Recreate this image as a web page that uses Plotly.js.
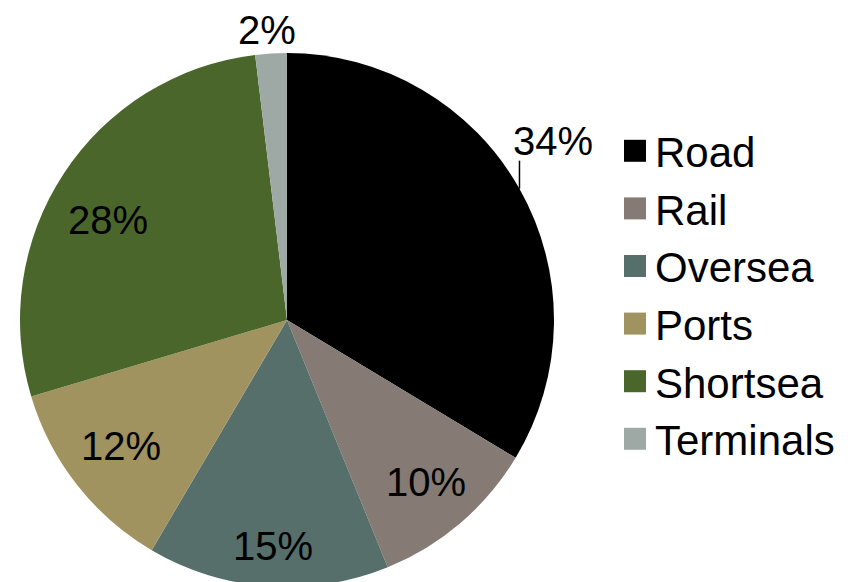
<!DOCTYPE html>
<html>
<head>
<meta charset="utf-8">
<script src="https://cdn.plot.ly/plotly-3.0.1.min.js"></script>
<style>
html,body{margin:0;padding:0;overflow:hidden;background:#fff;}
#chart{width:855px;height:592px;}
</style>
</head>
<body>
<div id="chart"></div>
<script>
// Data
var categories = ['Road', 'Rail', 'Oversea', 'Ports', 'Shortsea', 'Terminals'];
var shares = [33.6, 10.2, 14.6, 11.9, 27.7, 1.9];
var colors = ['#000000', '#857b74', '#566f6b', '#a0935f', '#4a662b', '#9ea9a6'];

// Label placement (styling, not data): radius factor and angle offset (deg)
var labelRadius = [1.20, 0.80, 0.85, 0.78, 0.77, 1.09];
var labelAngleOffset = [-4.5, 0, -0.5, 1, -4, -0.5];

var W = 855, H = 592;
var domX = [20 / W, 554 / W];
var domY = [1 - 587 / H, 1 - 53 / H];

var total = shares.reduce(function (a, b) { return a + b; }, 0);
var cxp = W * (domX[0] + domX[1]) / 2;
var cyp = H * (1 - (domY[0] + domY[1]) / 2);
var R = Math.min(W * (domX[1] - domX[0]), H * (domY[1] - domY[0])) / 2;

var annotations = [];
var shapes = [];
var cum = 0;
for (var i = 0; i < shares.length; i++) {
  var mid = (cum + shares[i] / 2) / total * 360;
  cum += shares[i];
  var a = (mid + labelAngleOffset[i]) * Math.PI / 180;
  var px = cxp + R * labelRadius[i] * Math.sin(a);
  var py = cyp - R * labelRadius[i] * Math.cos(a);
  annotations.push({
    x: px / W, y: 1 - py / H, xref: 'paper', yref: 'paper',
    text: Math.round(shares[i] / total * 100) + '%',
    showarrow: false, xanchor: 'center', yanchor: 'middle',
    font: {family: 'Liberation Sans, Arial, sans-serif', size: 40, color: '#000'}
  });
  if (labelRadius[i] > 1.15) {
    var am = mid * Math.PI / 180;
    var ex = cxp + R * Math.sin(am);
    var ey = cyp - R * Math.cos(am);
    shapes.push({
      type: 'line', xref: 'paper', yref: 'paper',
      x0: ex / W, y0: 1 - ey / H, x1: ex / W, y1: 1 - (ey - 28) / H,
      line: {color: '#000', width: 1.5}
    });
  }
}

var trace = {
  type: 'pie',
  labels: categories,
  values: shares,
  sort: false,
  direction: 'clockwise',
  rotation: 0,
  marker: {colors: colors, line: {width: 0}},
  textinfo: 'none',
  hoverinfo: 'label+percent',
  domain: {x: domX, y: domY}
};

var layout = {
  width: W, height: H,
  margin: {l: 0, r: 0, t: 0, b: 0},
  paper_bgcolor: '#fff',
  showlegend: true,
  legend: {
    x: 615 / W, xanchor: 'left',
    y: 1 - 295 / H, yanchor: 'middle',
    font: {family: 'Liberation Sans, Arial, sans-serif', size: 42, color: '#000'},
    bgcolor: 'rgba(0,0,0,0)'
  },
  annotations: annotations,
  shapes: shapes
};

Plotly.newPlot('chart', [trace], layout, {displayModeBar: false, staticPlot: true}).then(function (gd) {
  var pts = gd.querySelectorAll('path.legendpie');
  pts.forEach(function (p) { p.setAttribute('d', 'M11,11H-11V-11H11Z'); });
});
</script>
</body>
</html>
